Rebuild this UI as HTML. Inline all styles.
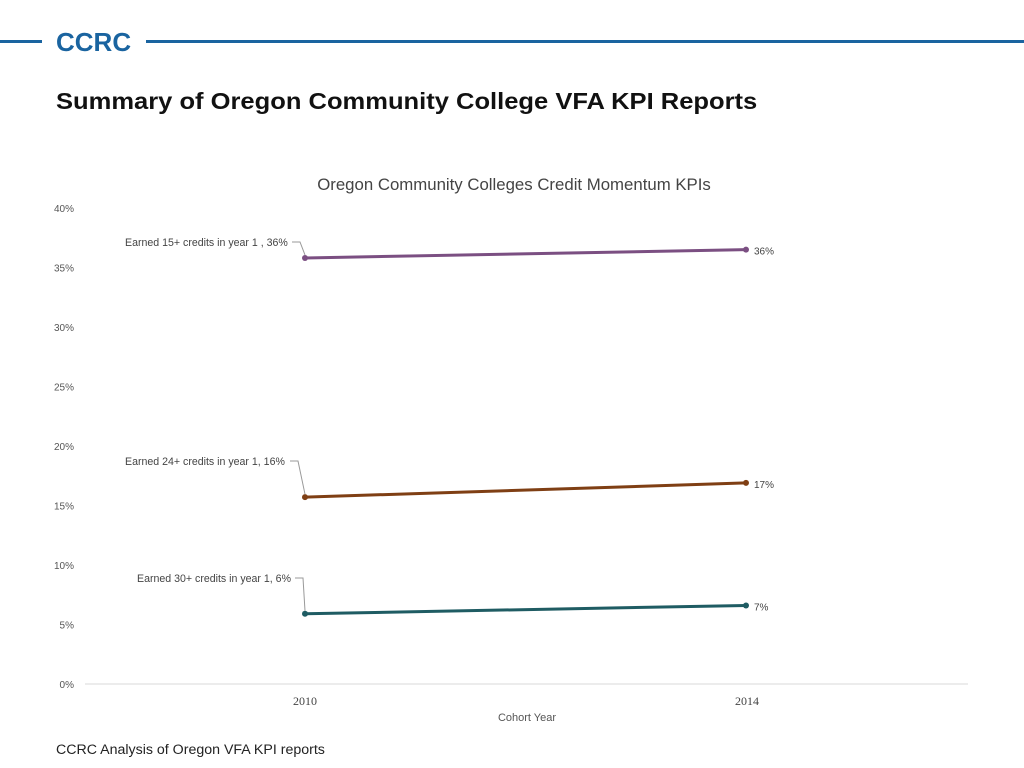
<!DOCTYPE html>
<html><head><meta charset="utf-8"><style>
body{margin:0;width:1024px;height:768px;background:#fff;overflow:hidden;position:relative;font-family:"Liberation Sans",sans-serif}
.abs{position:absolute}
</style></head><body>
<div class="abs" style="left:0;top:40px;width:42px;height:3px;background:#1a64a0"></div>
<div class="abs" style="left:56px;top:27px;font-size:26px;font-weight:bold;color:#1a64a0">CCRC</div>
<div class="abs" style="left:146px;top:40px;width:878px;height:3px;background:#1a64a0"></div>
<div class="abs" style="left:56px;top:88px;font-size:23px;font-weight:bold;color:#111;transform:scaleX(1.11);transform-origin:left top;white-space:nowrap">Summary of Oregon Community College VFA KPI Reports</div>
<div class="abs" style="left:56px;top:742px;font-size:14.2px;color:#222">CCRC Analysis of Oregon VFA KPI reports</div>
<svg class="abs" style="left:0;top:0" width="1024" height="768" id="chart">
<text x="514" y="190" text-anchor="middle" font-size="16.8" fill="#444" font-family="Liberation Sans, sans-serif">Oregon Community Colleges Credit Momentum KPIs</text>
<text x="527" y="721" text-anchor="middle" font-size="11" fill="#555" font-family="Liberation Sans, sans-serif">Cohort Year</text>
</svg>
<script>
const categories=["2010","2014"];
const seriesNames=["Earned 15+ credits in year 1 , 36%","Earned 24+ credits in year 1, 16%","Earned 30+ credits in year 1, 6%"];
const s15=[35.8,36.5];
const s24=[15.7,16.9];
const s30=[5.9,6.6];
const endLabels=["36%","17%","7%"];
const yTicks=[0,5,10,15,20,25,30,35,40];
const colors=["#7b4f82","#7f3f14","#1f5c63"];
const svg=document.getElementById('chart');
const NS="http://www.w3.org/2000/svg";
const y=v=>684-v*11.9;
const x=i=>305+i*441;
function el(t,a){const e=document.createElementNS(NS,t);for(const k in a)e.setAttribute(k,a[k]);svg.appendChild(e);return e;}
const base=el('line',{x1:85,x2:968,y1:684,y2:684,stroke:'#d9d9d9'});


yTicks.forEach(t=>{const e=el('text',{x:74,y:y(t)+4,'text-anchor':'end','font-size':10,fill:'#555','font-family':'Liberation Sans, sans-serif'});e.textContent=t+'%';

});
categories.forEach((c,i)=>{const e=el('text',{x:x(i)+i*1,y:705,'text-anchor':'middle','font-size':12,fill:'#444','font-family':'Liberation Serif, serif'});e.textContent=c;

});
const series=[s15,s24,s30];
const labelPos=[[289,[125,242]],[287,[125,461]],[292,[137,578]]];
series.forEach((s,k)=>{
 const l=el('line',{x1:x(0),y1:y(s[0]),x2:x(1),y2:y(s[1]),stroke:colors[k],'stroke-width':3});
 
 
 s.forEach((v,i)=>{const c=el('circle',{cx:x(i),cy:y(v),r:3,fill:colors[k]});
 
 });
 const lx=labelPos[k][1][0],ly=labelPos[k][1][1];
 const t=el('text',{x:lx,y:ly+4,'font-size':10.6,fill:'#444','font-family':'Liberation Sans, sans-serif'});t.textContent=seriesNames[k];
 
 
 const ex=labelPos[k][0]+3;
 const ld=el('polyline',{points:`${ex},${ly} ${ex+8},${ly} ${x(0)},${y(s[0])-3}`,fill:'none',stroke:'#999','stroke-width':1});
 
 
 const e=el('text',{x:x(1)+8,y:y(s[1])+5,'font-size':10,fill:'#444','font-family':'Liberation Sans, sans-serif'});e.textContent=endLabels[k];
 
 
});
</script>
</body></html>
